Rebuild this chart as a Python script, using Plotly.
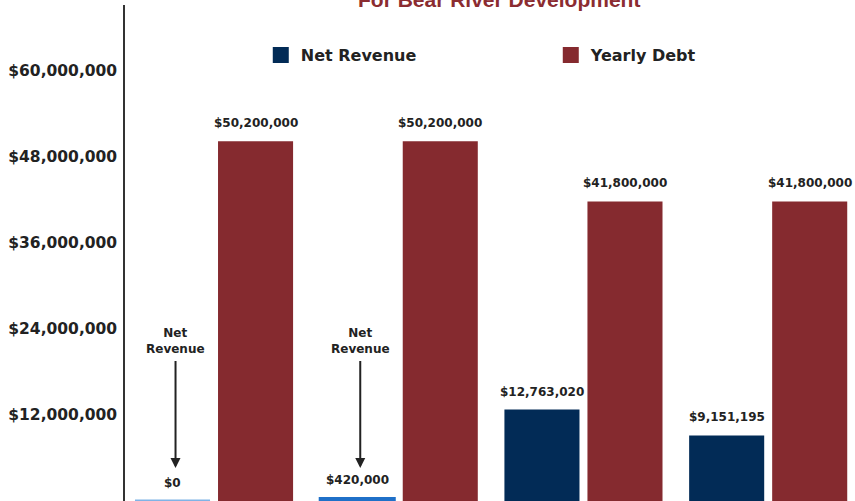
import plotly.graph_objects as go

# ---- data ----
categories = ["Scenario 1", "Scenario 2", "Scenario 3", "Scenario 4"]
net_revenue = [0, 420000, 12763020, 9151195]
yearly_debt = [50200000, 50200000, 41800000, 41800000]
y_ticks = [12000000, 24000000, 36000000, 48000000, 60000000]
y_tick_labels = [f"${v:,}" for v in y_ticks]
series_names = ["Net Revenue", "Yearly Debt"]
title_text = "For Bear River Development"

# ---- styles ----
NAVY = "#022b56"
RED = "#852a2f"
nr_colors = ["#7fb3e6", "#1f70c8", NAVY, NAVY]
nr_line_w = [3, 2, 0, 0]
FONT = "DejaVu Sans"
TXT = "#222222"

fig = go.Figure()
fig.add_trace(go.Bar(
    name=series_names[0], x=categories, y=net_revenue, showlegend=False,
    marker=dict(color=nr_colors, line=dict(color=nr_colors, width=nr_line_w)),
    hoverinfo="skip"))
fig.add_trace(go.Bar(
    name=series_names[1], x=categories, y=yearly_debt, showlegend=False,
    marker=dict(color=RED, line=dict(width=0)),
    hoverinfo="skip"))

# legend entries
for name, col in zip(series_names, [NAVY, RED]):
    fig.add_trace(go.Scatter(x=[None], y=[None], mode="markers", name=name,
                             marker=dict(symbol="square", size=16, color=col),
                             hoverinfo="skip"))

# value labels
for cat, v in zip(categories, net_revenue):
    fig.add_annotation(x=cat, y=v, text=f"${v:,}", showarrow=False,
                       xshift=-41.5, yshift=18, yanchor="middle",
                       font=dict(family=FONT, size=12, color=TXT, weight="bold"))
for cat, v in zip(categories, yearly_debt):
    fig.add_annotation(x=cat, y=v, text=f"${v:,}", showarrow=False,
                       xshift=41.5, yshift=18, yanchor="middle",
                       font=dict(family=FONT, size=12, color=TXT, weight="bold"))

# "Net Revenue" arrows
for cat in categories[:2]:
    fig.add_annotation(x=cat, y=0, text="Net<br>Revenue", showarrow=True,
                       xshift=-38.5, yshift=33, ax=0, ay=-127.5,
                       arrowhead=2, arrowsize=1, arrowwidth=2, arrowcolor="#222",
                       startstandoff=4,
                       font=dict(family=FONT, size=12, color=TXT, weight="bold"))

# title (mostly cut off at the top of the page)
fig.add_annotation(xref="paper", yref="paper", x=0.512, y=1.012,
                   text=title_text, showarrow=False, yanchor="middle",
                   font=dict(family="Liberation Sans", size=21, color="#8b2c31", weight="bold"))

fig.update_layout(
    width=855, height=501, autosize=False,
    margin=dict(l=125, r=0, t=5, b=0),
    paper_bgcolor="white", plot_bgcolor="white",
    barmode="group", bargap=0.101, bargroupgap=0.096,
    showlegend=True,
    legend=dict(orientation="h", x=0.186, y=0.899, xanchor="left", yanchor="middle",
                entrywidth=245, entrywidthmode="pixels",
                font=dict(family=FONT, size=16, color=TXT, weight="bold"),
                bgcolor="rgba(0,0,0,0)"),
    xaxis=dict(type="category", range=[-0.482, 3.47], showticklabels=False,
               showline=False, showgrid=False, zeroline=False, ticks=""),
    yaxis=dict(range=[0, 69.2e6], tickvals=y_ticks, ticktext=y_tick_labels,
               showgrid=False, zeroline=False, showline=True, linecolor="#333",
               linewidth=1.5, ticks="", ticklabelstandoff=3,
               tickfont=dict(family=FONT, size=15.5, color=TXT, weight="bold")),
)

fig.write_html("out.html", config={"displayModeBar": False},
               post_script="document.body.style.margin='0';")
